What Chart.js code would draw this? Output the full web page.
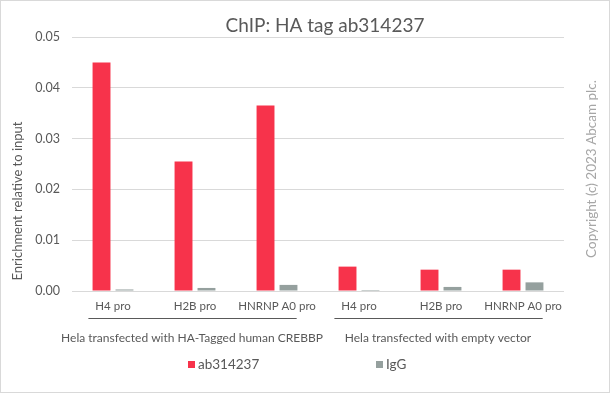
<!DOCTYPE html>
<html>
<head>
<meta charset="utf-8">
<script src="https://cdn.jsdelivr.net/npm/chart.js@4/dist/chart.umd.min.js"></script>
<style>
  html, body { margin: 0; padding: 0; background: #fff; }
  #wrap { width: 610px; height: 393px; position: relative; }
</style>
</head>
<body>
<div id="wrap"><canvas id="c" width="610" height="393"></canvas></div>
<script>
// ---- data ----
const categories = ['H4 pro', 'H2B pro', 'HNRNP A0 pro', 'H4 pro', 'H2B pro', 'HNRNP A0 pro'];
const seriesNames = ['ab314237', 'IgG'];
const ab314237 = [0.045, 0.0255, 0.0365, 0.0048, 0.0042, 0.0042];
const igg = [0.0003, 0.0006, 0.0012, 0.0002, 0.0008, 0.0017];
const groupLabels = ['Hela transfected with HA-Tagged human CREBBP', 'Hela transfected with empty vector'];
const groupFirst = [0, 3];
const groupLast = [2, 5];
const yTicks = [0, 0.01, 0.02, 0.03, 0.04, 0.05];
const titleText = 'ChIP: HA tag ab314237';
const yTitle = 'Enrichment relative to input';
const copyright = 'Copyright (c) 2023 Abcam plc.';

const FONT = 'Lato, "DejaVu Sans", sans-serif';
const TXT = '#595959';
const RED = '#F7334B';
const GRAY = '#95A09E';

const decor = {
  id: 'decor',
  beforeDraw(chart) {
    const ctx = chart.ctx;
    ctx.save();
    ctx.fillStyle = '#fff';
    ctx.fillRect(0, 0, chart.width, chart.height);
    ctx.restore();
  },
  afterDraw(chart) {
    const ctx = chart.ctx;
    const x = chart.scales.x;
    const area = chart.chartArea;
    ctx.save();
    // border
    ctx.strokeStyle = '#d9d9d9';
    ctx.lineWidth = 1;
    ctx.strokeRect(0.5, 0.5, chart.width - 1, chart.height - 1);
    // title
    ctx.fillStyle = TXT;
    ctx.font = '19px ' + FONT;
    ctx.textAlign = 'center';
    ctx.textBaseline = 'alphabetic';
    ctx.fillText(titleText, 325, 32);
    // y title
    ctx.save();
    ctx.translate(18, 201);
    ctx.rotate(-Math.PI / 2);
    ctx.font = '13px ' + FONT;
    ctx.textBaseline = 'middle';
    ctx.fillText(yTitle, 0, 0);
    ctx.restore();
    // copyright
    ctx.save();
    ctx.translate(592, 169);
    ctx.rotate(-Math.PI / 2);
    ctx.fillStyle = '#a6a6a6';
    ctx.font = '13.5px ' + FONT;
    ctx.textBaseline = 'middle';
    ctx.fillText(copyright, 0, 0);
    ctx.restore();
    // group lines and labels
    const cw = x.width / categories.length;
    ctx.strokeStyle = '#595959';
    ctx.lineWidth = 1;
    ctx.font = '12px ' + FONT;
    ctx.textBaseline = 'middle';
    for (let g = 0; g < groupLabels.length; g++) {
      const a = x.getPixelForValue(groupFirst[g]) - 0.3 * cw;
      const b = x.getPixelForValue(groupLast[g]) + 0.24 * cw;
      ctx.beginPath();
      ctx.moveTo(a, area.bottom + 27.5);
      ctx.lineTo(b, area.bottom + 27.5);
      ctx.stroke();
      const mid = (x.getPixelForValue(groupFirst[g]) + x.getPixelForValue(groupLast[g])) / 2;
      ctx.fillText(groupLabels[g], mid - 3, area.bottom + 47);
    }
    // legend
    const colors = [RED, GRAY];
    const lx = [188, 376];
    ctx.font = '13.5px ' + FONT;
    ctx.textAlign = 'left';
    for (let i = 0; i < seriesNames.length; i++) {
      ctx.fillStyle = colors[i];
      ctx.fillRect(lx[i], 361, 7, 7);
      ctx.fillStyle = TXT;
      ctx.fillText(seriesNames[i], lx[i] + 10, 365);
    }
    ctx.restore();
  }
};

new Chart(document.getElementById('c'), {
  type: 'bar',
  data: {
    labels: categories,
    datasets: [
      { label: seriesNames[0], data: ab314237, backgroundColor: RED, barPercentage: 0.78, categoryPercentage: 0.56 },
      { label: seriesNames[1], data: igg, backgroundColor: GRAY, barPercentage: 0.78, categoryPercentage: 0.56 }
    ]
  },
  options: {
    responsive: false,
    animation: false,
    devicePixelRatio: 1,
    layout: { padding: { left: 0, right: 46, top: 37, bottom: 0 } },
    plugins: { legend: { display: false }, title: { display: false }, tooltip: { enabled: false } },
    scales: {
      x: {
        grid: { display: false, drawTicks: false },
        border: { display: false },
        ticks: { color: TXT, font: { family: FONT, size: 11.5 }, padding: 8, maxRotation: 0, autoSkip: false },
        afterFit(s) { s.height = 102; }
      },
      y: {
        min: 0, max: 0.05,
        grid: { color: '#d9d9d9', drawTicks: false },
        border: { display: false },
        afterBuildTicks(s) { s.ticks = yTicks.map(v => ({ value: v })); },
        ticks: { color: TXT, font: { family: FONT, size: 12.5 }, padding: 12, callback: v => v.toFixed(2) },
        afterFit(s) { s.width = 72; }
      }
    }
  },
  plugins: [decor]
});
</script>
</body>
</html>
